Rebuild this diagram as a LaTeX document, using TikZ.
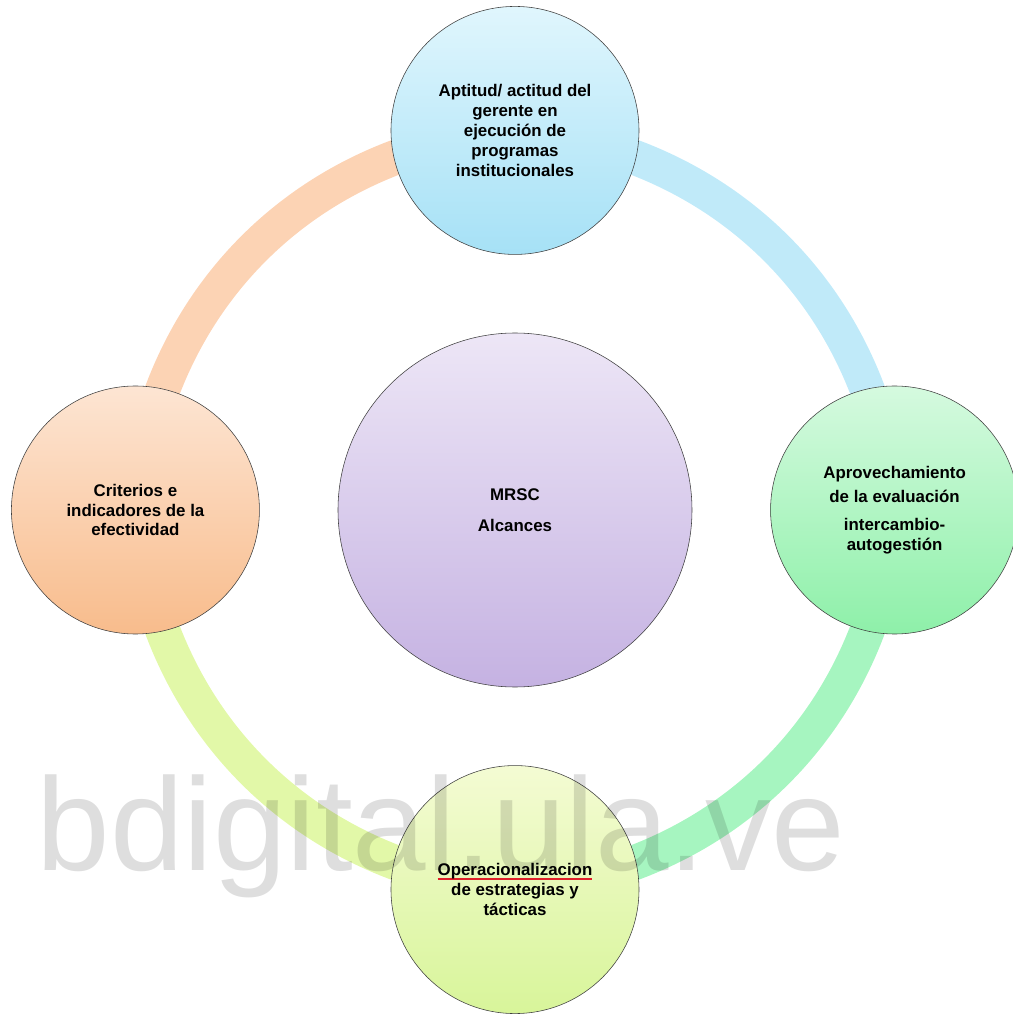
\documentclass[tikz,border=0pt]{standalone}
\usepackage{fontspec}
\setmainfont{Liberation Sans}
\usepackage{xcolor}
\usepackage{tikz}
\usetikzlibrary{positioning, backgrounds}

\definecolor{lilaTop}{HTML}{EDE6F6}
\definecolor{lilaBot}{HTML}{C5B2E2}
\definecolor{blueTop}{HTML}{E0F6FD}
\definecolor{blueBot}{HTML}{A6E1F6}
\definecolor{peachTop}{HTML}{FDE5D3}
\definecolor{peachBot}{HTML}{F8BC8C}
\definecolor{greenTop}{HTML}{D5FADF}
\definecolor{greenBot}{HTML}{8EF0A9}
\definecolor{limeTop}{HTML}{F4FBD3}
\definecolor{limeBot}{HTML}{D8F59A}
\definecolor{ringPeach}{HTML}{FCD3B4}
\definecolor{ringBlue}{HTML}{C0EAF9}
\definecolor{ringGreen}{HTML}{A6F5C0}
\definecolor{ringLime}{HTML}{E2F8A8}
\definecolor{squiggle}{HTML}{E0202A}

\begin{document}
\begin{tikzpicture}[
	  font=\fontsize{12}{14.2}\selectfont\bfseries,
	  node distance=19.5mm,
	  bubble/.style={
	    circle,
	    draw=black!75,
	    line width=0.4pt,
	    align=center,
	    minimum size=62mm,
	    inner sep=0pt
	  },
	  mainbubble/.style={bubble,minimum size=88.5mm,top color=lilaTop,bottom color=lilaBot},
	  bluebubble/.style={bubble,top color=blueTop,bottom color=blueBot},
	  peachbubble/.style={bubble,top color=peachTop,bottom color=peachBot},
	  greenbubble/.style={bubble,top color=greenTop,bottom color=greenBot},
	  limebubble/.style={bubble,top color=limeTop,bottom color=limeBot},
	  ringseg/.style={line width=8.75mm},
	  watermark/.style={font=\fontsize{94}{94}\selectfont\mdseries, text=black, text opacity=0.13}
	]
	\useasboundingbox (-12.875,-12.625) rectangle (12.45,12.75);

	% --- centre ---
	\node[mainbubble] (mrsc) {MRSC\\[8pt]Alcances};

	% --- cycle ---
	\node[bluebubble, above=of mrsc] (aptitud) {Aptitud/ actitud del\\gerente en\\ejecución de\\programas\\institucionales};
	\node[greenbubble, right=of mrsc] (aprovech) {Aprovechamiento\\[3pt]de la evaluación\\[6pt]intercambio-\\autogestión};
	\node[limebubble, below=of mrsc] (operac) {\makebox[0pt][l]{\textcolor{squiggle}{\rule[-3pt]{38.5mm}{1.1pt}}}Operacionalizacion\\de estrategias y\\tácticas};
	\node[peachbubble, left=of mrsc] (criterios) {Criterios e\\indicadores de la\\efectividad};

	% --- ring ---
	\begin{scope}[on background layer]
	\draw[ringseg, draw=ringPeach] (criterios.center) to[bend left=40] (aptitud.center);
	\draw[ringseg, draw=ringBlue] (aptitud.center) to[bend left=40] (aprovech.center);
	\draw[ringseg, draw=ringGreen] (aprovech.center) to[bend left=40] (operac.center);
	\draw[ringseg, draw=ringLime] (operac.center) to[bend left=40] (criterios.center);
	\end{scope}

	% --- watermark ---
	\node[watermark, anchor=base west] (marca) at (-12.075,-9.0) {bdigital.ula.ve};

	\end{tikzpicture}
\end{document}
